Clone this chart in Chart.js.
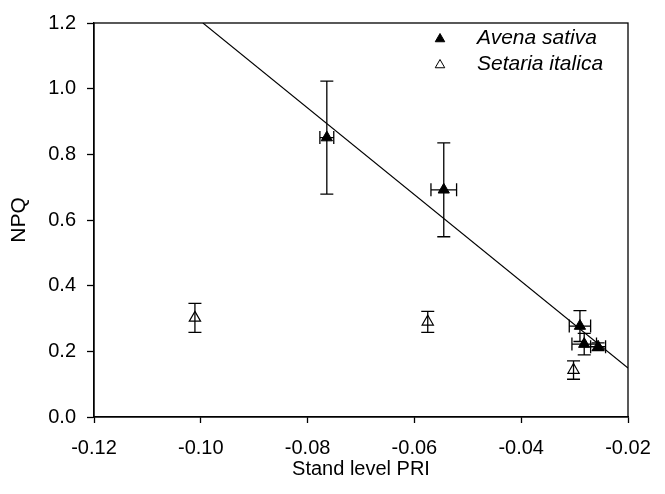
<!DOCTYPE html>
<html>
<head>
<meta charset="utf-8">
<script src="https://cdn.jsdelivr.net/npm/chart.js@4/dist/chart.umd.min.js"></script>
<style>
  html, body { margin: 0; padding: 0; background: #fff; }
  canvas { display: block; }
</style>
</head>
<body>
<canvas id="chart" width="665" height="494"></canvas>
<script>
// values
const avenaX = [-0.0764, -0.0545, -0.0290, -0.0282, -0.0256];
const avenaY = [0.851, 0.692, 0.277, 0.222, 0.214];
const avenaXErr = [0.0013, 0.0024, 0.0020, 0.0023, 0.0014];
const avenaYErr = [0.172, 0.143, 0.047, 0.033, 0.012];

const setariaX = [-0.1011, -0.0575, -0.0302];
const setariaY = [0.302, 0.290, 0.143];
const setariaXErr = [0, 0, 0];
const setariaYErr = [0.044, 0.032, 0.028];

// regression line end points
const fitX = [-0.0996, -0.02];
const fitY = [1.2, 0.149];

const xTicks = [-0.12, -0.10, -0.08, -0.06, -0.04, -0.02];
const yTicks = [0.0, 0.2, 0.4, 0.6, 0.8, 1.0, 1.2];

const legendLabels = ['Avena sativa', 'Setaria italica'];

const FONT = '"Liberation Sans", Arial, sans-serif';

function toPoints(xs, ys) {
    return xs.map((x, i) => ({ x: x, y: ys[i] }));
}

// error bars, drawn through the library's scales
const errorBars = {
    id: 'errorBars',
    afterDatasetsDraw(chart) {
        const { ctx, scales: { x, y } } = chart;
        const sets = [
            [avenaX, avenaY, avenaXErr, avenaYErr],
            [setariaX, setariaY, setariaXErr, setariaYErr]
        ];
        const cap = 6.5;
        ctx.save();
        ctx.strokeStyle = '#000';
        ctx.lineWidth = 1.3;
        sets.forEach(([xs, ys, xe, ye]) => {
            xs.forEach((xv, i) => {
                const px = x.getPixelForValue(xv);
                const py = y.getPixelForValue(ys[i]);
                if (ye[i] > 0) {
                    const t = y.getPixelForValue(ys[i] + ye[i]);
                    const b = y.getPixelForValue(ys[i] - ye[i]);
                    ctx.beginPath();
                    ctx.moveTo(px, t); ctx.lineTo(px, b);
                    ctx.moveTo(px - cap, t); ctx.lineTo(px + cap, t);
                    ctx.moveTo(px - cap, b); ctx.lineTo(px + cap, b);
                    ctx.stroke();
                }
                if (xe[i] > 0) {
                    const l = x.getPixelForValue(xv - xe[i]);
                    const r = x.getPixelForValue(xv + xe[i]);
                    ctx.beginPath();
                    ctx.moveTo(l, py); ctx.lineTo(r, py);
                    ctx.moveTo(l, py - cap); ctx.lineTo(l, py + cap);
                    ctx.moveTo(r, py - cap); ctx.lineTo(r, py + cap);
                    ctx.stroke();
                }
            });
        });
        ctx.restore();
    }
};

function triangle(ctx, cx, cy, r, filled) {
    ctx.beginPath();
    ctx.moveTo(cx, cy - r);
    ctx.lineTo(cx + r * Math.sin(2 * Math.PI / 3), cy - r * Math.cos(2 * Math.PI / 3));
    ctx.lineTo(cx + r * Math.sin(4 * Math.PI / 3), cy - r * Math.cos(4 * Math.PI / 3));
    ctx.closePath();
    ctx.fillStyle = filled ? '#000' : '#fff';
    ctx.fill();
    ctx.strokeStyle = '#000';
    ctx.lineWidth = 1;
    ctx.stroke();
}

// box frame and in-plot legend
const frameAndLegend = {
    id: 'frameAndLegend',
    afterDraw(chart) {
        const { ctx, chartArea: a } = chart;
        ctx.save();
        ctx.strokeStyle = '#000';
        ctx.lineWidth = 1.3;
        ctx.strokeRect(a.left, a.top, a.right - a.left, a.bottom - a.top);

        ctx.font = 'italic 21px ' + FONT;
        ctx.textBaseline = 'middle';
        legendLabels.forEach((label, i) => {
            const ly = 38 + i * 26;
            triangle(ctx, 440, ly + 1, 5.5, i === 0);
            ctx.fillStyle = '#000';
            ctx.fillText(label, 477, ly);
        });
        ctx.restore();
    }
};

new Chart(document.getElementById('chart'), {
    type: 'scatter',
    data: {
        datasets: [
            {
                label: 'fit',
                type: 'line',
                data: toPoints(fitX, fitY),
                borderColor: '#000',
                borderWidth: 1.1,
                pointRadius: 0,
                fill: false,
                order: 3
            },
            {
                label: legendLabels[0],
                data: toPoints(avenaX, avenaY),
                pointStyle: 'triangle',
                pointRadius: 6.5,
                pointBackgroundColor: '#000',
                pointBorderColor: '#000',
                pointBorderWidth: 1,
                order: 1
            },
            {
                label: legendLabels[1],
                data: toPoints(setariaX, setariaY),
                pointStyle: 'triangle',
                pointRadius: 6.5,
                pointBackgroundColor: '#fff',
                pointBorderColor: '#000',
                pointBorderWidth: 1.2,
                order: 2
            }
        ]
    },
    options: {
        responsive: false,
        animation: false,
        layout: { padding: { left: 0, top: 18, right: 37, bottom: 0 } },
        plugins: {
            legend: { display: false },
            tooltip: { enabled: false }
        },
        scales: {
            x: {
                type: 'linear',
                min: xTicks[0],
                max: xTicks[xTicks.length - 1],
                afterBuildTicks(scale) { scale.ticks = xTicks.map(v => ({ value: v })); },
                afterFit(scale) { scale.height = 77; },
                ticks: {
                    callback: v => v.toFixed(2),
                    color: '#000',
                    padding: 13,
                    maxRotation: 0,
                    font: { family: FONT, size: 20 }
                },
                grid: { drawOnChartArea: false, tickLength: 6, color: '#000', tickWidth: 1.3 },
                border: { color: '#000', width: 1.3 },
                title: {
                    display: true,
                    text: 'Stand level PRI',
                    color: '#000',
                    font: { family: FONT, size: 20 },
                    padding: { top: 0, bottom: 13 }
                }
            },
            y: {
                type: 'linear',
                min: yTicks[0],
                max: yTicks[yTicks.length - 1],
                afterBuildTicks(scale) { scale.ticks = yTicks.map(v => ({ value: v })); },
                afterFit(scale) { scale.width = 94; },
                ticks: {
                    callback: v => v.toFixed(1),
                    color: '#000',
                    padding: 11,
                    font: { family: FONT, size: 20 }
                },
                grid: { drawOnChartArea: false, tickLength: 7, color: '#000', tickWidth: 1.3 },
                border: { color: '#000', width: 1.3 },
                title: {
                    display: true,
                    text: 'NPQ',
                    color: '#000',
                    font: { family: FONT, size: 21 },
                    padding: { top: 7, bottom: 0 }
                }
            }
        }
    },
    plugins: [errorBars, frameAndLegend]
});
</script>
</body>
</html>
